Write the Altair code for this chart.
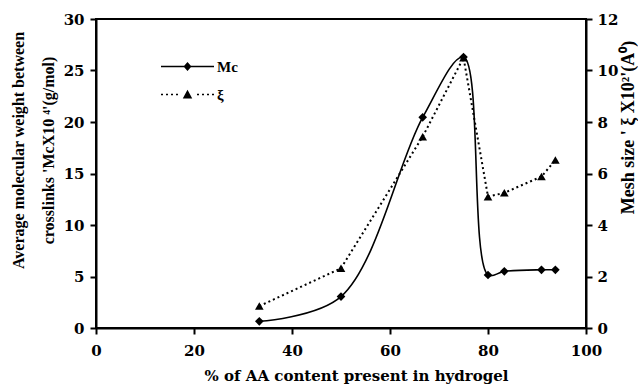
import altair as alt
import pandas as pd

# ---- data ----
aa_content = [33.33, 50.0, 66.67, 75.0, 80.0, 83.33, 90.91, 93.75]
mc_values = [0.65, 3.05, 20.45, 26.3, 5.15, 5.5, 5.65, 5.65]      # Mc x10^4 (g/mol), left axis
xi_values = [0.85, 2.32, 7.43, 10.5, 5.1, 5.25, 5.88, 6.52]       # mesh size x10^2 (A), right axis

series_names = ["Mc", "ξ"]
x_ticks = [0, 20, 40, 60, 80, 100]
left_ticks = [0, 5, 10, 15, 20, 25, 30]
right_ticks = [0, 2, 4, 6, 8, 10, 12]

df_mc = pd.DataFrame({"x": aa_content, "y": mc_values, "series": "Mc"})
df_xi = pd.DataFrame({"x": aa_content, "y": xi_values, "series": "ξ"})

TICK_FONT = "DejaVu Serif"
TITLE_FONT = "Liberation Serif"

x_axis = alt.Axis(
    values=x_ticks, title="% of AA content present in hydrogel",
    labelPadding=9, labelFlush=False, titleX=260, titleAlign="center", titlePadding=10,
)
xenc = alt.X("x:Q", scale=alt.Scale(domain=[0, 100], nice=False, zero=False), axis=x_axis)

left_scale = alt.Scale(domain=[0, 30], nice=False)
right_scale = alt.Scale(domain=[0, 12], nice=False)

left_axis = alt.Axis(
    values=left_ticks, orient="left",
    title=["Average molecular weight between", "crosslinks 'McX10 ⁴'(g/mol)"],
    titleX=-78, titleY=131, titleAngle=270, titleAlign="center",
    titleBaseline="middle", titleLineHeight=30, labelPadding=6,
)
right_axis = alt.Axis(
    values=right_ticks, orient="right",
    title="Mesh size ' ξ X10²'(A⁰)",
    titleX=42, titleY=108, titleAngle=270, titleAlign="center",
    titleBaseline="middle", labelPadding=5, titleFontSize=18,
)

y_left = alt.Y("y:Q", scale=left_scale, axis=left_axis)
y_right = alt.Y("y:Q", scale=right_scale, axis=right_axis)

mc_line = alt.Chart(df_mc).mark_line(
    color="black", strokeWidth=1.6, interpolate="catmull-rom"
).encode(x=xenc, y=y_left)
mc_pts = alt.Chart(df_mc).mark_point(
    shape="diamond", filled=True, color="black", size=75, opacity=1
).encode(x=xenc, y=y_left)

# legend symbols: a line (thin filled bar / dots) with the marker in the middle
dots = "".join(
    f"M{a:.2f},-0.17L{a + 0.4:.2f},-0.17L{a + 0.4:.2f},0.17L{a:.2f},0.17Z"
    for a in [-5.3, -4.3, -3.3, -2.3, 1.9, 2.9, 3.9, 4.9]
)
leg_paths = [
    "M-5.3,-0.15L5.3,-0.15L5.3,0.15L-5.3,0.15ZM0,-0.9L0.8,0L0,0.9L-0.8,0Z",
    dots + "M0,-0.95L0.95,0.8L-0.95,0.8Z",
]
legend_layer = alt.Chart(pd.concat([df_mc, df_xi])).transform_filter("false").mark_point(
    filled=True, color="black", opacity=1
).encode(
    x=xenc,
    y=y_left,
    shape=alt.Shape(
        "series:N",
        scale=alt.Scale(domain=series_names, range=leg_paths),
        legend=alt.Legend(
            title=None, orient="none", legendX=84, legendY=40,
            symbolSize=100, labelOffset=22, rowPadding=11,
            labelFont=TITLE_FONT, labelFontSize=15, labelFontWeight="bold",
            symbolFillColor="black", symbolOpacity=1,
        ),
    ),
)

left_layer = alt.layer(mc_line, mc_pts, legend_layer)

xi_line = alt.Chart(df_xi).mark_line(
    color="black", strokeWidth=2, strokeDash=[2, 3]
).encode(x=xenc, y=y_right)
xi_pts = alt.Chart(df_xi).mark_point(
    shape="triangle-up", filled=True, color="black", size=75, opacity=1
).encode(x=xenc, y=y_right)

right_layer = alt.layer(xi_line, xi_pts)

chart = alt.layer(left_layer, right_layer).resolve_scale(
    y="independent", shape="independent"
).properties(
    width=490, height=309,
    autosize=alt.AutoSizeParams(type="none"),
    padding={"left": 96, "top": 19, "right": 52, "bottom": 62},
).configure_view(
    stroke="black", strokeWidth=2
).configure_axis(
    grid=False, domainColor="black", domainWidth=2, tickColor="black",
    tickWidth=2, tickSize=6, labelFont=TICK_FONT, labelFontSize=15,
    labelFontWeight="bold", labelColor="black", titleFont=TITLE_FONT,
    titleFontSize=16, titleFontWeight="bold", titleColor="black",
).configure_axisX(titleFont=TICK_FONT, titleFontSize=15)

chart.save("out.html", embed_options={"renderer": "svg", "actions": False})
